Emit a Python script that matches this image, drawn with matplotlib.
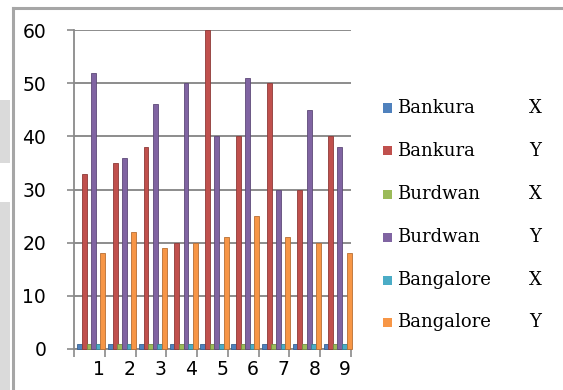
import matplotlib
matplotlib.use("Agg")
import matplotlib.pyplot as plt
from matplotlib.patches import Rectangle
import numpy as np

# Data
categories = ["1", "2", "3", "4", "5", "6", "7", "8", "9"]
series_names = ["Bankura", "Bankura", "Burdwan", "Burdwan", "Bangalore", "Bangalore"]
series_suffix = ["X", "Y", "X", "Y", "X", "Y"]
bankura_x = [1, 1, 1, 1, 1, 1, 1, 1, 1]
bankura_y = [33, 35, 38, 20, 60, 40, 50, 30, 40]
burdwan_x = [1, 1, 1, 1, 1, 1, 1, 1, 1]
burdwan_y = [52, 36, 46, 50, 40, 51, 30, 45, 38]
bangalore_x = [1, 1, 1, 1, 1, 1, 1, 1, 1]
bangalore_y = [18, 22, 19, 20, 21, 25, 21, 20, 18]
y_ticks = [0, 10, 20, 30, 40, 50, 60]

series = [bankura_x, bankura_y, burdwan_x, burdwan_y, bangalore_x, bangalore_y]
colors = ["#4F81BD", "#C0504D", "#9BBB59", "#8064A2", "#4BACC6", "#F79646"]
edges = ["#3A6291", "#8E3A38", "#748C42", "#5E4A78", "#37808F", "#B86F34"]

W, H = 563, 390
fig = plt.figure(figsize=(W / 100, H / 100), dpi=100)
fig.patch.set_facecolor("white")

# Sheet remnants and chart frame
fig.add_artist(Rectangle((0, 1 - 163 / H), 10 / W, 63 / H, transform=fig.transFigure,
                         facecolor="#dadada", edgecolor="none"))
fig.add_artist(Rectangle((0, 0), 10 / W, 1 - 202 / H, transform=fig.transFigure,
                         facecolor="#dadada", edgecolor="none"))
fig.add_artist(plt.Line2D([13 / W, 13 / W], [0, 1 - 8 / H], transform=fig.transFigure,
                          color="#a6a6a6", lw=2.2))
fig.add_artist(plt.Line2D([13 / W, 1], [1 - 8 / H, 1 - 8 / H], transform=fig.transFigure,
                          color="#a6a6a6", lw=2.2))

left, right, bottom, top = 74, 351, 349, 30
ax = fig.add_axes([left / W, 1 - bottom / H, (right - left) / W, (bottom - top) / H])
ax.set_facecolor("none")

x = np.arange(1, len(categories) + 1)
bw = 0.16
offsets = [0.065 + (k - 2.5) * 0.15 for k in range(6)]
for k, vals in enumerate(series):
    ax.bar(x + offsets[k], vals, width=bw, color=colors[k], edgecolor=edges[k],
           linewidth=0.6, zorder=3, clip_on=False)

ax.set_xlim(0.5, len(categories) + 0.5)
ax.set_ylim(0, 60)

# Category boundaries as ticks, labels slightly right of centre
ax.set_xticks(np.arange(0.5, len(categories) + 1, 1.0))
ax.set_xticklabels([])
ax.set_xticks(x + 0.31, minor=True)
ax.set_xticklabels(categories, minor=True, fontsize=13.5, fontfamily="DejaVu Sans")
ax.tick_params(axis="x", which="major", length=6, width=1.2, color="#8a8a8a", direction="out")
ax.tick_params(axis="x", which="minor", length=0, pad=8)

ax.set_yticks(y_ticks)
ax.set_yticklabels([str(v) for v in y_ticks], fontsize=13.5, fontfamily="DejaVu Sans")
ax.tick_params(axis="y", length=5, width=1.2, color="#8a8a8a", pad=15)

ax.grid(axis="y", color="#8c8c8c", lw=1.4, zorder=1)
for s in ["top", "right"]:
    ax.spines[s].set_visible(False)
for s in ["left", "bottom"]:
    ax.spines[s].set_color("#8a8a8a")
    ax.spines[s].set_linewidth(1.3)

# Legend
row_y = [108, 151, 194, 237, 280, 322]
for k in range(6):
    yc = 1 - row_y[k] / H
    fig.add_artist(Rectangle((383 / W, yc - 4.5 / H), 9 / W, 9 / H, transform=fig.transFigure,
                             facecolor=colors[k], edgecolor="none"))
    fig.text(397 / W, yc, series_names[k], fontsize=13, fontfamily="DejaVu Serif",
             va="center", ha="left")
    fig.text(535 / W, yc, series_suffix[k], fontsize=13, fontfamily="DejaVu Serif",
             va="center", ha="center")

fig.savefig("out.png", dpi=100)
